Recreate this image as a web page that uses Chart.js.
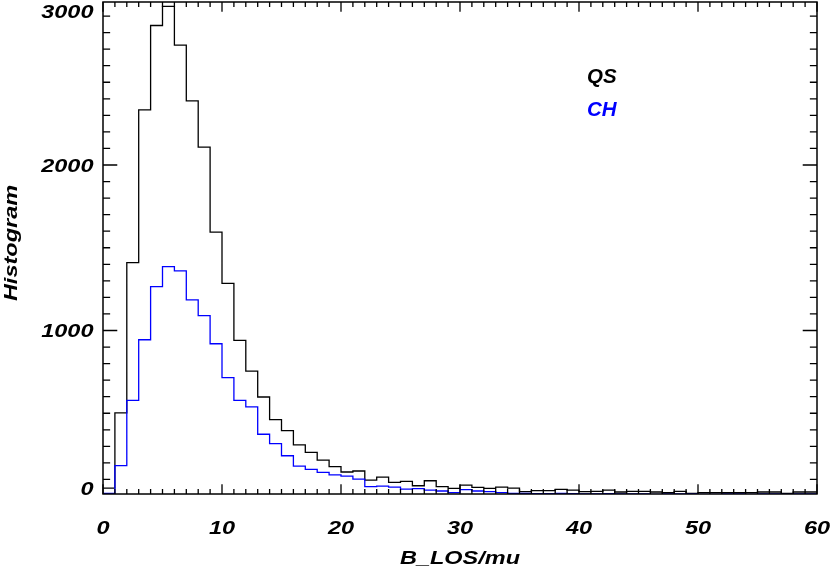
<!DOCTYPE html>
<html>
<head>
<meta charset="utf-8">
<script src="https://cdn.jsdelivr.net/npm/chart.js@4/dist/chart.umd.min.js"></script>
<style>
  html, body { margin: 0; padding: 0; background: #fff; }
  canvas { display: block; }
</style>
</head>
<body>
<canvas id="hist" width="830" height="575"></canvas>
<script>
// histogram bins (left edges), width 1
const binLeft = [
  0, 1, 2, 3, 4, 5, 6, 7, 8, 9, 10, 11, 12, 13, 14, 15, 16, 17, 18, 19,
  20, 21, 22, 23, 24, 25, 26, 27, 28, 29, 30, 31, 32, 33, 34, 35, 36, 37, 38, 39,
  40, 41, 42, 43, 44, 45, 46, 47, 48, 49, 50, 51, 52, 53, 54, 55, 56, 57, 58, 59
];
const binWidth = 1;

const qsCounts = [
  48, 502, 1410, 2333, 2843, 2958, 2725, 2387, 2108, 1594,
  1285, 940, 755, 598, 462, 395, 309, 263, 217, 177,
  145, 151, 96, 114, 82, 88, 62, 92, 56, 46,
  66, 52, 46, 54, 48, 26, 32, 32, 40, 36,
  26, 28, 36, 24, 28, 28, 24, 20, 28, 16,
  20, 20, 20, 20, 20, 24, 24, 16, 24, 24
];
const chCounts = [
  16, 183, 578, 944, 1265, 1386, 1360, 1185, 1090, 920,
  715, 578, 538, 373, 317, 243, 181, 161, 143, 128,
  120, 102, 56, 60, 54, 42, 44, 36, 30, 20,
  38, 30, 26, 20, 16, 16, 14, 14, 16, 14,
  12, 12, 14, 12, 12, 12, 10, 12, 12, 12,
  10, 10, 12, 12, 10, 12, 12, 10, 12, 12
];

const xTicks = [0, 10, 20, 30, 40, 50, 60];
const yTicks = [0, 1000, 2000, 3000];
const xMinor = 1;
const yMinor = 100;

const xTitle = "B_LOS/mu";
const yTitle = "Histogram";

// step points: each bin value holds from its left edge to the next one
const toSteps = (counts) => {
  const pts = binLeft.map((x, i) => ({ x: x, y: counts[i] }));
  pts.push({ x: binLeft[binLeft.length - 1] + binWidth, y: counts[counts.length - 1] });
  return pts;
};

const FONT = "'Liberation Sans', Arial, sans-serif";
const STRETCH = 1.27;

const drawText = (ctx, text, x, y, size, align, sx) => {
  ctx.save();
  ctx.font = "italic bold " + size + "px " + FONT;
  ctx.textAlign = align;
  ctx.textBaseline = "alphabetic";
  ctx.translate(x, y);
  ctx.scale(sx, 1);
  ctx.fillText(text, 0, 0);
  ctx.restore();
};

// IDL-like box axes: inward ticks on all four sides
const idlAxes = {
  id: "idlAxes",
  afterDatasetsDraw(chart) {
    const ctx = chart.ctx;
    const a = chart.chartArea;
    const xs = chart.scales.x;
    const ys = chart.scales.y;
    const w = a.right - a.left;
    const h = a.bottom - a.top;
    const xLen = 0.02 * h, yLen = 0.02 * w;

    ctx.save();
    ctx.strokeStyle = "#000";
    ctx.fillStyle = "#000";
    ctx.lineWidth = 1.5;
    ctx.strokeRect(a.left, a.top, w, h);

    ctx.lineWidth = 1.3;
    ctx.beginPath();
    for (let v = xs.min; v <= xs.max + 1e-9; v += xMinor) {
      const px = xs.getPixelForValue(v);
      const len = xTicks.includes(Math.round(v)) ? xLen : xLen / 2;
      ctx.moveTo(px, a.bottom); ctx.lineTo(px, a.bottom - len);
      ctx.moveTo(px, a.top); ctx.lineTo(px, a.top + len);
    }
    for (let v = 0; v <= yTicks[yTicks.length - 1]; v += yMinor) {
      if (v < ys.min || v > ys.max) continue;
      const py = ys.getPixelForValue(v);
      const len = yTicks.includes(v) ? yLen : yLen / 2;
      ctx.moveTo(a.left, py); ctx.lineTo(a.left + len, py);
      ctx.moveTo(a.right, py); ctx.lineTo(a.right - len, py);
    }
    ctx.stroke();

    // tick labels
    xTicks.forEach((v) => {
      drawText(ctx, String(v), xs.getPixelForValue(v), a.bottom + 39.5, 18.5, "center", STRETCH);
    });
    yTicks.forEach((v) => {
      let py = ys.getPixelForValue(v);
      py = Math.min(Math.max(py, a.top + 9.7), a.bottom - 5.5);
      drawText(ctx, String(v), a.left - 9.5, py + 6.6, 18.5, "right", STRETCH);
    });

    // axis titles
    drawText(ctx, xTitle, (a.left + a.right) / 2, a.bottom + 69.5, 18.5, "center", STRETCH);
    ctx.save();
    ctx.translate(16.5, (a.top + a.bottom) / 2 - 5);
    ctx.rotate(-Math.PI / 2);
    drawText(ctx, yTitle, 0, 0, 18.5, "center", STRETCH);
    ctx.restore();

    // legend
    chart.data.datasets.forEach((ds, i) => {
      ctx.fillStyle = ds.borderColor;
      drawText(ctx, ds.label, 587, 83.3 + i * 32.5, 20.5, "left", 1);
    });
    ctx.restore();
  }
};

new Chart(document.getElementById("hist"), {
  type: "line",
  data: {
    datasets: [
      {
        label: "QS",
        data: toSteps(qsCounts),
        borderColor: "#000000",
        borderWidth: 1.3,
        stepped: "before",
        pointRadius: 0,
        fill: false,
        order: 2,
      },
      {
        label: "CH",
        data: toSteps(chCounts),
        borderColor: "#0000ff",
        borderWidth: 1.3,
        stepped: "before",
        pointRadius: 0,
        fill: false,
        order: 1,
      },
    ],
  },
  options: {
    responsive: false,
    animation: false,
    layout: { padding: { left: 103, top: 2, right: 13, bottom: 81 } },
    plugins: {
      legend: { display: false },
      tooltip: { enabled: false },
    },
    scales: {
      x: { type: "linear", min: 0, max: 60, display: false },
      y: { type: "linear", min: 12, max: 2985, display: false },
    },
  },
  plugins: [idlAxes],
});
</script>
</body>
</html>
